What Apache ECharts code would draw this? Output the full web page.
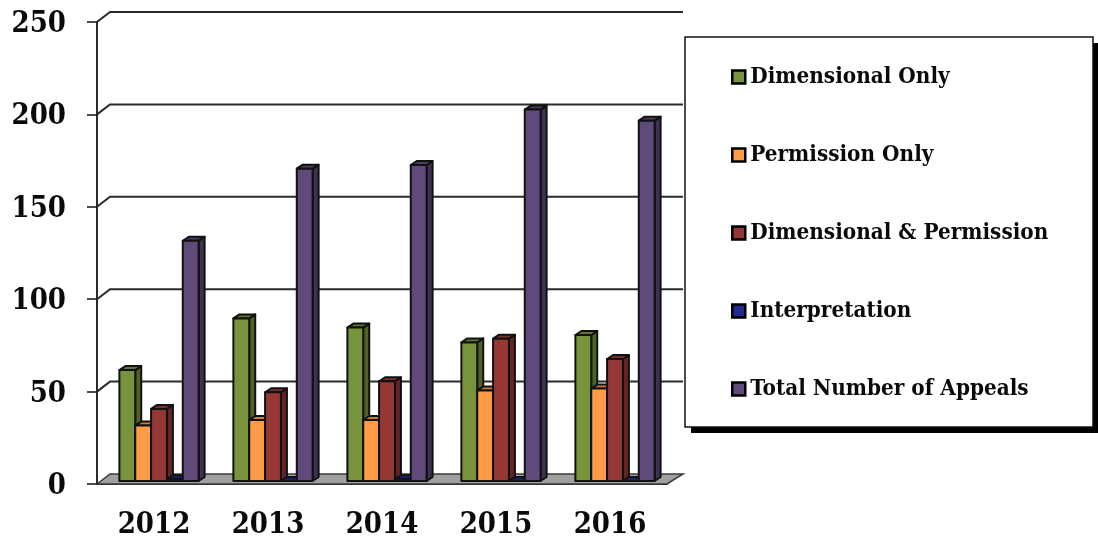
<!DOCTYPE html>
<html>
<head>
<meta charset="utf-8">
<style>html,body{margin:0;padding:0;background:#fff}#c{width:1098px;height:539px}</style>
<script src="https://cdn.jsdelivr.net/npm/echarts@6/dist/echarts.min.js"></script>
</head>
<body>
<div id="c"></div>
<script>
const categories = ['2012', '2013', '2014', '2015', '2016'];
const dimensionalOnly = [60, 88, 83, 75, 79];
const permissionOnly = [30, 33, 33, 49, 50];
const dimensionalPermission = [39, 48, 54, 77, 66];
const interpretation = [1, 0, 1, 0, 0];
const totalAppeals = [130, 169, 171, 201, 195];
const yTicks = [0, 50, 100, 150, 200, 250];
const seriesNames = ['Dimensional Only', 'Permission Only', 'Dimensional & Permission', 'Interpretation', 'Total Number of Appeals'];
const seriesValues = [dimensionalOnly, permissionOnly, dimensionalPermission, interpretation, totalAppeals];
const frontColors = ['#77933C', '#FF9A47', '#953735', '#1F2A8C', '#604A7B'];
const sideColors = ['#4F6228', '#B8702F', '#632523', '#141C5E', '#3F3151'];
const topColors = ['#5F7530', '#CC7A38', '#77302C', '#182070', '#4D3B63'];

const FONT = '"DejaVu Serif Condensed","DejaVu Serif",serif';
const BACK_X = 13, BACK_Y = 10, BACK_X_R = 16;
const BAR_RATIO = 0.139, BAR_DX = 5, BAR_DY = 3, DEPTH_X = 6, DEPTH_Y = 4;

function renderWall(params, api) {
  const v = api.value(0);
  const band = api.size([1, 0])[0];
  const p0 = api.coord([0, v]);
  const pN = api.coord([categories.length - 1, v]);
  const xl = p0[0] - band / 2, xr = pN[0] + band / 2, y = p0[1];
  const children = [];
  if (v === 0) {
    children.push({
      type: 'polygon',
      shape: { points: [[xl, y], [xl + BACK_X, y - BACK_Y], [xr + BACK_X_R, y - BACK_Y], [xr, y]] },
      style: { fill: '#A0A0A0', stroke: '#3a3a3a', lineWidth: 1.5 }
    });
  } else {
    children.push({
      type: 'polyline',
      shape: { points: [[xl, y], [xl + BACK_X, y - BACK_Y], [xr + BACK_X_R, y - BACK_Y]] },
      style: { fill: 'none', stroke: '#2b2b2b', lineWidth: 2 }
    });
  }
  return { type: 'group', children };
}

function barRenderer(idx) {
  return function (params, api) {
    const i = api.value(0), v = api.value(1);
    const band = api.size([1, 0])[0];
    const bw = band * BAR_RATIO;
    const c = api.coord([i, v]);
    const b = api.coord([i, 0]);
    const x0 = c[0] + (idx - 2.5) * bw + BAR_DX, x1 = x0 + bw;
    const yt = c[1] - BAR_DY, yb = b[1] - BAR_DY;
    const stroke = { stroke: '#111', lineWidth: 2, lineJoin: 'round' };
    return {
      type: 'group',
      children: [
        { type: 'polygon', shape: { points: [[x1, yt], [x1 + DEPTH_X, yt - DEPTH_Y], [x1 + DEPTH_X, yb - DEPTH_Y], [x1, yb]] },
          style: Object.assign({ fill: sideColors[idx] }, stroke) },
        { type: 'polygon', shape: { points: [[x0, yt], [x0 + DEPTH_X, yt - DEPTH_Y], [x1 + DEPTH_X, yt - DEPTH_Y], [x1, yt]] },
          style: Object.assign({ fill: topColors[idx] }, stroke) },
        { type: 'rect', shape: { x: x0, y: yt, width: bw, height: yb - yt },
          style: Object.assign({ fill: frontColors[idx] }, stroke) }
      ]
    };
  };
}

const chart = echarts.init(document.getElementById('c'), null, { renderer: 'canvas' });
chart.setOption({
  animation: false,
  backgroundColor: '#fff',
  grid: { left: 97, top: 22, width: 570, height: 462, containLabel: false, outerBoundsMode: 'none' },
  graphic: [
    { type: 'rect', z: 10, shape: { x: 691, y: 43, width: 408, height: 390 }, style: { fill: '#000' } },
    { type: 'rect', z: 11, shape: { x: 685, y: 37, width: 408, height: 390 }, style: { fill: '#fff', stroke: '#111', lineWidth: 1.5 } }
  ],
  xAxis: {
    type: 'category', data: categories,
    axisLine: { lineStyle: { color: '#2b2b2b', width: 2 } },
    axisTick: { alignWithLabel: false, length: 10, lineStyle: { color: '#111', width: 1.5 } },
    axisLabel: { color: '#0a0a0a', fontFamily: FONT, fontWeight: 'bold', fontSize: 29, margin: 27 }
  },
  yAxis: {
    type: 'value', min: 0, max: 250, interval: 50,
    axisLine: { show: true, lineStyle: { color: '#2b2b2b', width: 2 } },
    axisTick: { show: true, length: 10, lineStyle: { color: '#111', width: 1.5 } },
    splitLine: { show: false },
    axisLabel: {
      margin: 31,
      formatter: '{a|{value}}',
      rich: { a: { color: '#0a0a0a', fontFamily: FONT, fontWeight: 'bold', fontSize: 29, padding: [5, 0, 0, 0] } }
    }
  },
  legend: {
    data: seriesNames,
    orient: 'vertical',
    left: 731, top: 66,
    padding: 0,
    itemGap: 56,
    itemWidth: 13, itemHeight: 13,
    icon: 'rect',
    itemStyle: { borderColor: '#000', borderWidth: 2.5 },
    textStyle: { color: '#0a0a0a', fontFamily: FONT, fontWeight: 'bold', fontSize: 22.3 },
    z: 20
  },
  series: [
    {
      type: 'custom', name: 'walls', silent: true, z: 1, clip: false,
      data: yTicks.map(v => [v]), encode: { y: 0 }, renderItem: renderWall
    }
  ].concat(seriesNames.map((name, idx) => ({
    type: 'custom', name, z: 3 + idx, clip: false,
    itemStyle: { color: frontColors[idx], borderColor: '#000', borderWidth: 2 },
    data: seriesValues[idx].map((v, i) => [i, v]),
    encode: { x: 0, y: 1 },
    renderItem: barRenderer(idx)
  })))
});
</script>
</body>
</html>
